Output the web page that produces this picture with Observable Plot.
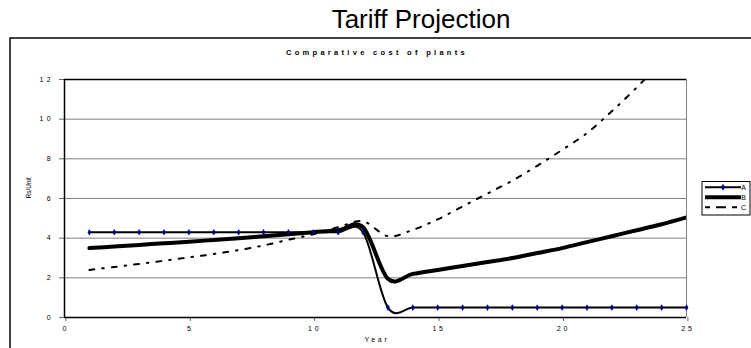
<!DOCTYPE html>
<html><head><meta charset="utf-8">
<script src="https://cdn.jsdelivr.net/npm/d3@7"></script>
<script src="https://cdn.jsdelivr.net/npm/@observablehq/plot@0.6"></script>
<style>
body{margin:0;background:#fff;}
#chart svg{font-family:"Liberation Sans",Arial,sans-serif;}
g[aria-label="y-axis tick label"] text{letter-spacing:3.3px;}
g[aria-label="x-axis tick label"] text{letter-spacing:2.8px;}
</style></head><body><div id="chart"></div>
<script>
const years = [1,2,3,4,5,6,7,8,9,10,11,12,13,14,15,16,17,18,19,20,21,22,23,24,25];
const seriesA = [4.3,4.3,4.3,4.3,4.3,4.3,4.3,4.3,4.3,4.3,4.3,4.3,0.5,0.5,0.5,0.5,0.5,0.5,0.5,0.5,0.5,0.5,0.5,0.5,0.5];
const seriesB = [3.5,3.58,3.66,3.74,3.82,3.91,4.0,4.1,4.2,4.3,4.4,4.55,1.95,2.2,2.4,2.6,2.8,3.0,3.25,3.5,3.8,4.1,4.4,4.7,5.05];
const seriesC = [2.4,2.55,2.7,2.86,3.03,3.2,3.4,3.63,3.92,4.2,4.55,4.85,4.1,4.42,4.95,5.6,6.25,6.9,7.65,8.45,9.3,10.4,11.6,12.9,14.3];
const seriesNames = ["A","B","C"];
const xTicks = [0,5,10,15,20,25];
const yTicks = [0,2,4,6,8,10,12];
const title = "Tariff Projection";
const subtitle = "Comparative cost of plants";
const xLabel = "Year";
const yLabel = "Rs/Unit";

const toRows = vals => years.map((x,i)=>({x, y: vals[i]}));
const dA = toRows(seriesA), dB = toRows(seriesB), dC = toRows(seriesC);

const W = 751, H = 348;
const plot = Plot.plot({
  width: W, height: H,
  marginLeft: 64, marginRight: 65, marginTop: 79, marginBottom: 31,
  x: {domain: [0, 25]},
  y: {domain: [0, 12]},
  style: {fontFamily: '"Liberation Sans",Arial,sans-serif', fontSize: "7px", background: "white", color: "black", overflow: "visible"},
  marks: [
    Plot.ruleY(yTicks.filter(d => d > 0 && d < 12), {stroke: "#808080", strokeWidth: 1, strokeOpacity: 1}),
    Plot.ruleX([25], {stroke: "#808080", strokeWidth: 1}),
    Plot.ruleY([12], {stroke: "black", strokeWidth: 1.5}),
    Plot.axisY({ticks: yTicks, tickSize: 5, tickPadding: 5.5, label: null, fontSize: 7, stroke: "#666"}),
    Plot.axisX({ticks: xTicks, tickSize: 4, tickPadding: 4.5, label: null, fontSize: 7, dx: 1.4, stroke: "#666"}),
    Plot.ruleX([0], {stroke: "black", strokeWidth: 1.5}),
    Plot.ruleY([0], {stroke: "black", strokeWidth: 1.5}),
    Plot.line(dC, {x: "x", y: "y", curve: "cardinal", stroke: "black", strokeWidth: 2, strokeDasharray: "5,8,1.5,8", clip: true}),
    Plot.line(dB, {x: "x", y: "y", curve: "cardinal", stroke: "black", strokeWidth: 4, clip: true}),
    Plot.line(dA, {x: "x", y: "y", curve: "cardinal", stroke: "black", strokeWidth: 2, clip: true}),
    Plot.dot(dA, {x: "x", y: "y", symbol: "diamond", r: 2, fill: "#000080", stroke: "none"}),
    Plot.text([xLabel], {frameAnchor: "bottom", dy: 24.5, fontSize: 7, dx: 1.5}),
    Plot.text([yLabel], {frameAnchor: "left", dx: -36, rotate: -90, fontSize: 6.5})
  ]
});
document.getElementById("chart").appendChild(plot);

const svg = d3.select(plot);
svg.selectAll('g[aria-label="text"]').filter((d,i)=>i===0).selectAll("text").style("letter-spacing","2.7px");

// outer frame
svg.append("path").attr("d", `M10,${H+5}V38H${W+5}`).attr("fill","none").attr("stroke","black").attr("stroke-width",1.5);
// title
svg.append("text").attr("x", 421).attr("y", 28).attr("text-anchor","middle")
  .attr("font-size", 26).attr("fill","black").text(title);
// subtitle
svg.append("text").attr("x", 377).attr("y", 55).attr("text-anchor","middle")
  .attr("font-size", 7.5).attr("font-weight","bold").style("letter-spacing","3.3px").attr("fill","black").text(subtitle);
// legend
const lg = svg.append("g");
lg.append("rect").attr("x",702).attr("y",181.5).attr("width",48).attr("height",33.5).attr("fill","white").attr("stroke","black").attr("stroke-width",1);
const rowsY = [187.3,197.3,207.3];
const widths = [2,4,2];
const dashes = [null,null,"5,6,10,6"];
seriesNames.forEach((n,i)=>{
  const l = lg.append("line").attr("x1",705).attr("x2",741).attr("y1",rowsY[i]).attr("y2",rowsY[i]).attr("stroke","black").attr("stroke-width",widths[i]);
  if (dashes[i]) l.attr("stroke-dasharray",dashes[i]);
  lg.append("text").attr("x",743.5).attr("y",rowsY[i]).attr("dy","0.35em").attr("font-size",7).attr("fill","black").text(n);
});
lg.append("path").attr("d", d3.symbol(d3.symbolDiamond, 14)()).attr("transform",`translate(723,${rowsY[0]})`).attr("fill","#000080");
</script></body></html>
